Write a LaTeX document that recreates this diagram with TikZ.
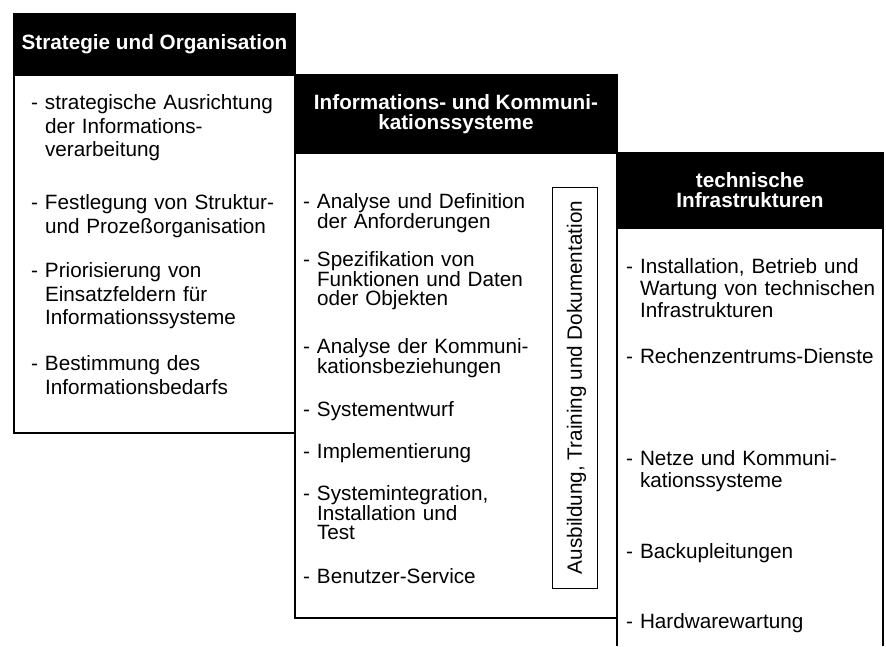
\documentclass[tikz,border=0pt]{standalone}
\usepackage{fontspec}
\setmainfont{Liberation Sans}
\usetikzlibrary{positioning}

% dash that hangs in front of the first line of an entry
\newcommand{\strich}{\llap{-\ }}

\begin{document}
\begin{tikzpicture}[x=1pt, y=-1pt,
    every node/.style={inner sep=0pt, outer sep=0pt},
    head/.style={draw=black, fill=black, text=white, line width=1.2pt, align=center,
      font=\fontsize{20.7}{20}\selectfont\bfseries},
    panel/.style={draw=black, line width=1.2pt},
    entry/.style={anchor=base west, text width=240pt, align=left,
      font=\fontsize{20.7}{#1}\selectfont}]

        \useasboundingbox (0,0) rectangle (886,646);

        % Bottom edge of the page, the last column runs into it
        \coordinate (bottom) at (0,646);

        % First column: Strategie und Organisation
        \node[head, anchor=north west, minimum width=281pt, minimum height=61pt] (strat) at (14,14) {Strategie und Organisation};
        \node[panel, below=0pt of strat, minimum width=281pt, minimum height=358pt] (stratbox) {};

        \foreach \y/\txt [count=\i] in {
            109.5/{\strich strategische Ausrichtung\\der Informations-\\verarbeitung},
            209.5/{\strich Festlegung von Struktur-\\und Prozeßorganisation},
            277.5/{\strich Priorisierung von\\Einsatzfeldern für\\Informationssysteme},
            370.5/{\strich Bestimmung des\\Informationsbedarfs}} {
          \node[entry=23.5] (strat\i) at (45,\y) {\txt};
        }

        % Second column: Informations- und Kommunikationssysteme
        \node[head, anchor=north west, minimum width=322pt, minimum height=78pt] (iuk) at (stratbox.north east) {Informations- und Kommuni-\\kationssysteme};
        \node[panel, below=0pt of iuk, minimum width=322pt, minimum height=465pt] (iukbox) {};

        \foreach \y/\txt [count=\i] in {
            208.5/{\strich Analyse und Definition\\der Anforderungen},
            266.5/{\strich Spezifikation von\\Funktionen und Daten\\oder Objekten},
            353.5/{\strich Analyse der Kommuni-\\kationsbeziehungen},
            416.5/{\strich Systementwurf},
            458.5/{\strich Implementierung},
            500.5/{\strich Systemintegration,\\Installation und\\Test},
            583.5/{\strich Benutzer-Service}} {
          \node[entry=19.5] (iuk\i) at (317,\y) {\txt};
        }

        % Vertical box across the second column
        \node[panel, line width=1pt, rotate=90, minimum width=401pt, minimum height=45pt,
          text height=14.8pt, text depth=0pt, font=\fontsize{20.7}{24}\selectfont] (ausb) at (574.5,387.5) {Ausbildung, Training und Dokumentation};

        % Third column: technische Infrastrukturen, open at the bottom
        \node[head, anchor=north west, minimum width=266pt, minimum height=75pt] (tech) at (iukbox.north east) {technische\\Infrastrukturen};
        \draw[panel] (tech.south west) -- (tech.south west |- bottom);
        \draw[panel] (tech.south east) -- (tech.south east |- bottom);

        \foreach \y/\txt [count=\i] in {
            273.5/{\strich Installation, Betrieb und\\Wartung von technischen\\Infrastrukturen},
            363.5/{\strich Rechenzentrums-Dienste},
            465.5/{\strich Netze und Kommuni-\\kationssysteme},
            558.5/{\strich Backupleitungen},
            628.5/{\strich Hardwarewartung}} {
          \node[entry=22] (tech\i) at (640,\y) {\txt};
        }

      \end{tikzpicture}
\end{document}
